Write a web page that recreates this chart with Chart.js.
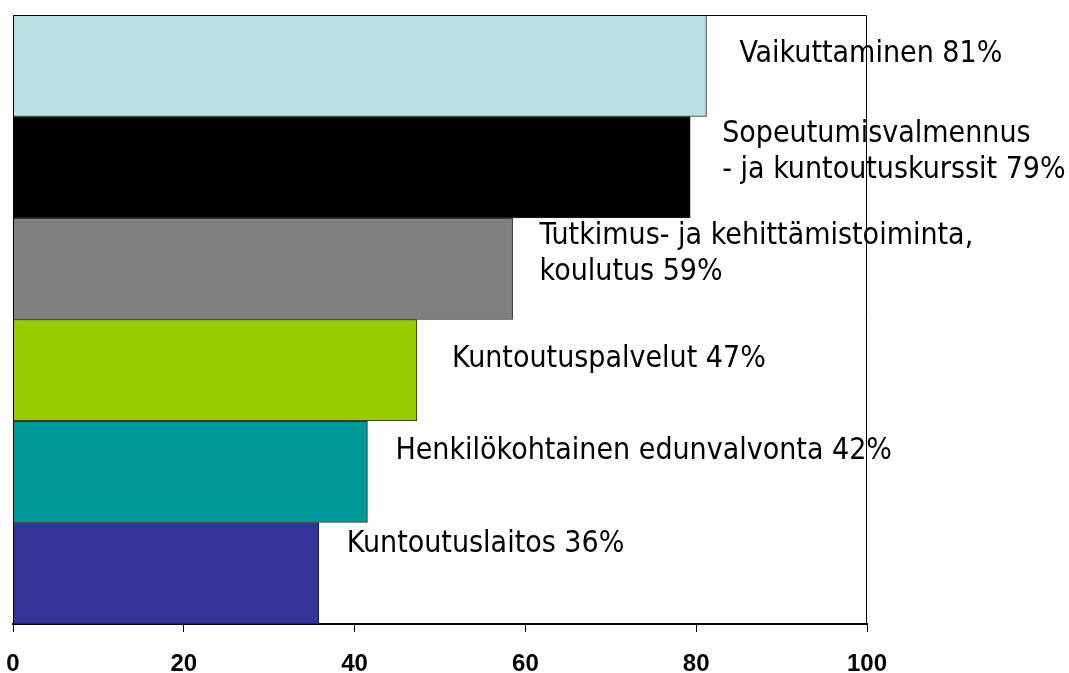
<!DOCTYPE html>
<html>
<head>
<meta charset="utf-8">
<script src="https://cdn.jsdelivr.net/npm/chart.js@4"></script>
<style>
  html, body { margin: 0; padding: 0; background: #fff; }
  #wrap { width: 1069px; height: 673px; }
</style>
</head>
<body>
<div id="wrap"><canvas id="chart" width="1069" height="673"></canvas></div>
<script>
// categories, top to bottom (label lines as placed next to the bars)
const categories = [
    ['Vaikuttaminen'],
    ['Sopeutumisvalmennus', '- ja kuntoutuskurssit'],
    ['Tutkimus- ja kehittämistoiminta,', 'koulutus'],
    ['Kuntoutuspalvelut'],
    ['Henkilökohtainen edunvalvonta'],
    ['Kuntoutuslaitos']
];
const shares = [81, 79, 59, 47, 42, 36];            // percent shown in the labels
const values = [81.2, 79.3, 58.5, 47.3, 41.5, 35.8]; // bar lengths
const xTicks = [0, 20, 40, 60, 80, 100];

const barColors = ['#bae0e3', '#000000', '#808080', '#99cc00', '#009999', '#333399'];

// hand placed label nudges: [dx from bar end, dy of first baseline from bar centre]
const labelNudge = [[33, -4], [32, -25], [27, -25], [35, -3], [28, -13], [28, -21]];

const labelFont = '30px "DejaVu Sans Condensed", "DejaVu Sans", sans-serif';
const lineGap = 36;

// frame round the plot area, like the old spreadsheet chart
const plotFrame = {
    id: 'plotFrame',
    afterDatasetsDraw(chart) {
        const { ctx, chartArea: a } = chart;
        ctx.save();
        ctx.strokeStyle = '#000';
        ctx.lineWidth = 1;
        ctx.beginPath();
        ctx.moveTo(a.left + 0.5, a.bottom);
        ctx.lineTo(a.left + 0.5, a.top + 0.5);
        ctx.lineTo(a.right - 0.5, a.top + 0.5);
        ctx.lineTo(a.right - 0.5, a.bottom);
        ctx.stroke();
        ctx.restore();
    }
};

// text labels beside each bar
const barLabels = {
    id: 'barLabels',
    afterDraw(chart) {
        const { ctx } = chart;
        const meta = chart.getDatasetMeta(0);
        ctx.save();
        ctx.font = labelFont;
        ctx.fillStyle = '#000';
        ctx.textAlign = 'left';
        ctx.textBaseline = 'alphabetic';
        meta.data.forEach((bar, i) => {
            const lines = categories[i].slice();
            lines[lines.length - 1] += ' ' + shares[i] + '%';
            const [dx, dy] = labelNudge[i];
            lines.forEach((line, j) => {
                ctx.fillText(line, bar.x + dx, bar.y + dy + j * lineGap);
            });
        });
        ctx.restore();
    }
};

const ctx = document.getElementById('chart');

new Chart(ctx, {
    type: 'bar',
    data: {
        labels: categories.map(c => c.join(' ')),
        datasets: [{
            data: values,
            backgroundColor: barColors,
            borderColor: '#222',
            borderWidth: 1,
            barPercentage: 1,
            categoryPercentage: 1
        }]
    },
    options: {
        indexAxis: 'y',
        responsive: false,
        animation: false,
        devicePixelRatio: 1,
        layout: {
            padding: { left: 13, right: 202, top: 15, bottom: -23 }
        },
        scales: {
            x: {
                min: 0,
                max: 100,
                afterBuildTicks: scale => {
                    scale.ticks = xTicks.map(v => ({ value: v }));
                },
                afterFit: scale => {
                    // no extra room for the end labels, the padding above does it
                    scale.paddingLeft = 0;
                    scale.paddingRight = 0;
                },
                grid: {
                    display: true,
                    drawOnChartArea: false,
                    drawTicks: true,
                    tickLength: 8,
                    color: '#000',
                    lineWidth: 1
                },
                border: { display: true, color: '#000', width: 2 },
                ticks: {
                    color: '#000',
                    padding: 20,
                    maxRotation: 0,
                    font: { family: '"Liberation Sans", Arial, sans-serif', size: 24, weight: 'bold', lineHeight: 1 }
                }
            },
            y: {
                display: false
            }
        },
        plugins: {
            legend: { display: false },
            tooltip: { enabled: false }
        }
    },
    plugins: [plotFrame, barLabels]
});
</script>
</body>
</html>
